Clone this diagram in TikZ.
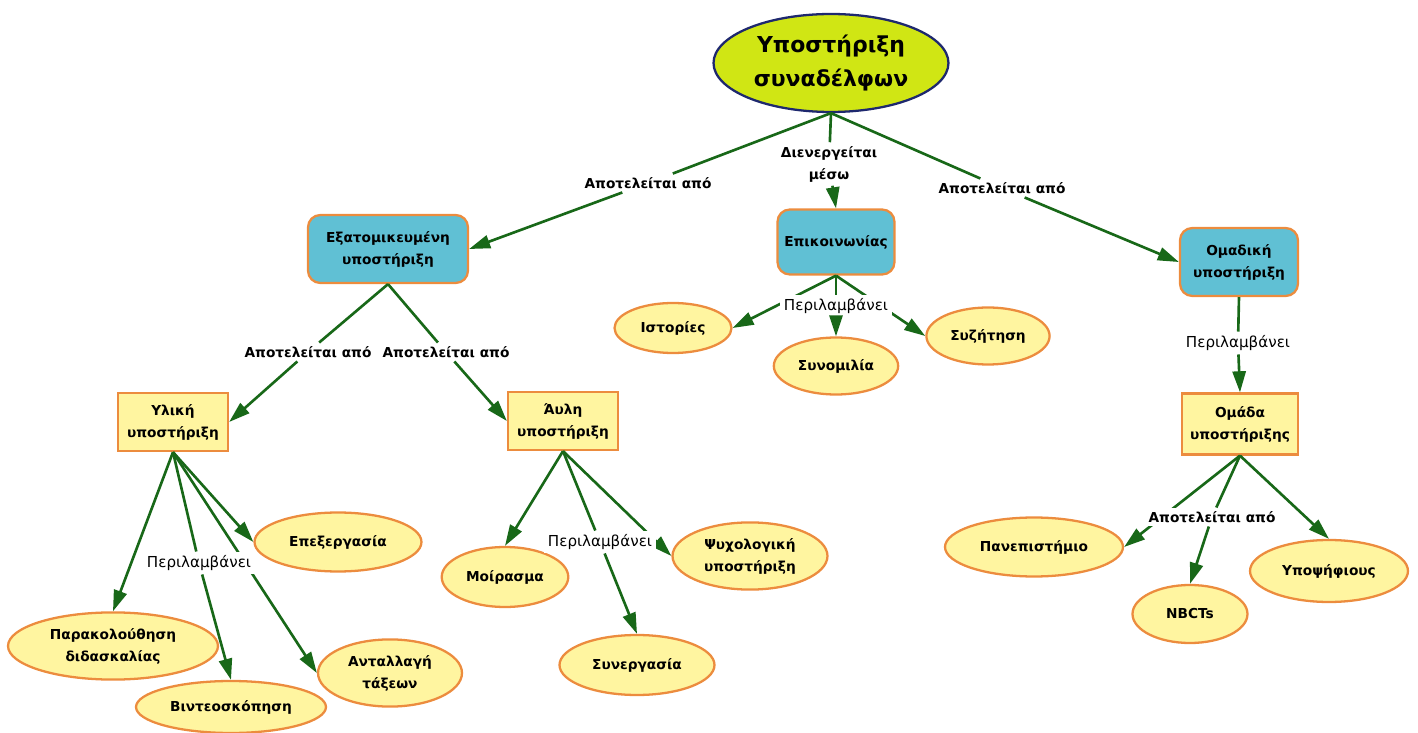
\documentclass[tikz,border=0pt]{standalone}
\usepackage{fontspec}
\setmainfont{DejaVu Sans}
\usetikzlibrary{shapes.geometric,arrows.meta}

\definecolor{linkgreen}{RGB}{24,104,24}
\definecolor{rimorange}{RGB}{236,140,62}
\definecolor{paleyellow}{RGB}{255,245,160}
\definecolor{skyblue}{RGB}{96,192,212}
\definecolor{limefill}{RGB}{208,230,20}
\definecolor{navyrim}{RGB}{30,40,110}

\begin{document}
\begin{tikzpicture}[x=0.02cm,y=-0.02cm,>={Triangle[length=12pt,width=7.5pt]},
		link/.style={draw=linkgreen,line width=1.5pt},
		main/.style={ellipse,draw=navyrim,line width=1.3pt,fill=limefill,align=center,
			font=\fontsize{12.5}{19}\selectfont\bfseries},
		group/.style={rectangle,rounded corners=7pt,draw=rimorange,line width=1.3pt,fill=skyblue,
			align=center,font=\fontsize{7.8}{12.5}\selectfont\bfseries},
		kind/.style={rectangle,draw=rimorange,line width=1.3pt,fill=paleyellow,
			align=center,font=\fontsize{7.8}{12.5}\selectfont\bfseries},
		leaf/.style={ellipse,draw=rimorange,line width=1.3pt,fill=paleyellow,
			align=center,font=\fontsize{7.8}{12.5}\selectfont\bfseries},
		verb/.style={fill=white,inner sep=2pt,align=center,font=\fontsize{7.8}{12.5}\selectfont\bfseries},
		softverb/.style={verb,font=\fontsize{8.6}{12.5}\selectfont}]
		
		\useasboundingbox (0,0) rectangle (1418,733);
		
		% concepts
		\node[main,minimum width=4.64cm,minimum height=1.96cm] (root) at (831,63) {Υποστήριξη\\συναδέλφων};
		
		\node[group,minimum width=3.2cm,minimum height=1.36cm] (indiv) at (388,249) {Εξατομικευμένη\\υποστήριξη};
		\node[group,minimum width=2.34cm,minimum height=1.3cm] (comm) at (836,242) {Επικοινωνίας};
		\node[group,minimum width=2.36cm,minimum height=1.36cm] (team) at (1239,262) {Ομαδική\\υποστήριξη};
		
		\node[kind,minimum width=2.2cm,minimum height=1.16cm] (matter) at (173,422) {Υλική\\υποστήριξη};
		\node[kind,minimum width=2.2cm,minimum height=1.16cm] (immat) at (563,421) {Άυλη\\υποστήριξη};
		\node[kind,minimum width=2.32cm,minimum height=1.22cm] (crew) at (1240,424) {Ομάδα\\υποστήριξης};
		
		\node[leaf,minimum width=2.34cm,minimum height=1.0cm] (stories) at (673,328) {Ιστορίες};
		\node[leaf,minimum width=2.34cm,minimum height=1.14cm] (chat) at (836,366) {Συνομιλία};
		\node[leaf,minimum width=2.3cm,minimum height=1.14cm] (debate) at (988,336) {Συζήτηση};
		
		\node[leaf,minimum width=3.34cm,minimum height=1.18cm] (process) at (338,542) {Επεξεργασία};
		\node[leaf,minimum width=4.2cm,minimum height=1.34cm] (observe) at (113,646) {Παρακολούθηση\\διδασκαλίας};
		\node[leaf,minimum width=3.8cm,minimum height=1.04cm] (video) at (231,707) {Βιντεοσκόπηση};
		\node[leaf,minimum width=2.88cm,minimum height=1.32cm] (swap) at (390,673) {Ανταλλαγή\\τάξεων};
		
		\node[leaf,minimum width=2.32cm,minimum height=1.2cm] (share) at (505,577) {Μοίρασμα};
		\node[leaf,minimum width=3.1cm,minimum height=1.3cm] (psych) at (750,556) {Ψυχολογική\\υποστήριξη};
		\node[leaf,minimum width=3.1cm,minimum height=1.2cm] (coop) at (637,665) {Συνεργασία};
		
		\node[leaf,minimum width=3.56cm,minimum height=1.18cm] (univ) at (1034,547) {Πανεπιστήμιο};
		\node[leaf,minimum width=2.3cm,minimum height=1.16cm] (nbct) at (1190,614) {NBCTs};
		\node[leaf,minimum width=3.16cm,minimum height=1.24cm] (cand) at (1329,571) {Υποψήφιους};
		
		% straight links under the labels
		\draw[link,->] (comm.south) -- (stories.east);
		\draw[link,->] (comm.south) -- (debate.west);
		\draw[link,->] (matter.south) -- (observe.north);
		\draw[link,->] (matter.south) -- (process.west);
		\draw[link,->] (matter.south) -- (swap.west);
		\draw[link,->] (immat.south) -- (share.north);
		\draw[link,->] (immat.south) -- (psych.west);
		\draw[link,->] (crew.south) -- (univ.east);
		\draw[link,->] (crew.south) -- (cand.north);
		
		% link labels
		\node[verb] (consistsL) at (648,183) {Αποτελείται από};
		\node[verb] (through) at (829,164) {Διενεργείται\\μέσω};
		\node[verb] (consistsR) at (1002,188) {Αποτελείται από};
		\node[verb] (partA) at (308,352) {Αποτελείται από};
		\node[verb] (partB) at (446,352) {Αποτελείται από};
		\node[softverb] (incComm) at (836,306) {Περιλαμβάνει};
		\node[softverb] (incTeam) at (1238,343) {Περιλαμβάνει};
		\node[softverb] (incMat) at (199,563) {Περιλαμβάνει};
		\node[softverb] (incImm) at (600,542) {Περιλαμβάνει};
		\node[verb] (members) at (1212,517) {Αποτελείται από};
		
		% links through the labels
		\draw[link] (root.south) -- (consistsL);
		\draw[link,->] (consistsL) -- (indiv.east);
		\draw[link] (root.south) -- (through);
		\draw[link,->] (through) -- (comm.north);
		\draw[link] (root.south) -- (consistsR);
		\draw[link,->] (consistsR) -- (team.west);
		
		\draw[link] (indiv.south) -- (partA);
		\draw[link,->] (partA) -- (matter.east);
		\draw[link] (indiv.south) -- (partB);
		\draw[link,->] (partB) -- (immat.west);
		
		\draw[link] (comm.south) -- (incComm);
		\draw[link,->] (incComm) -- (chat.north);
		\draw[link] (team.south) -- (incTeam);
		\draw[link,->] (incTeam) -- (crew.north);
		\draw[link] (matter.south) -- (incMat);
		\draw[link,->] (incMat) -- (video.north);
		\draw[link] (immat.south) -- (incImm);
		\draw[link,->] (incImm) -- (coop.north);
		\draw[link] (crew.south) -- (members);
		\draw[link,->] (members) -- (nbct.north);
	\end{tikzpicture}
\end{document}
